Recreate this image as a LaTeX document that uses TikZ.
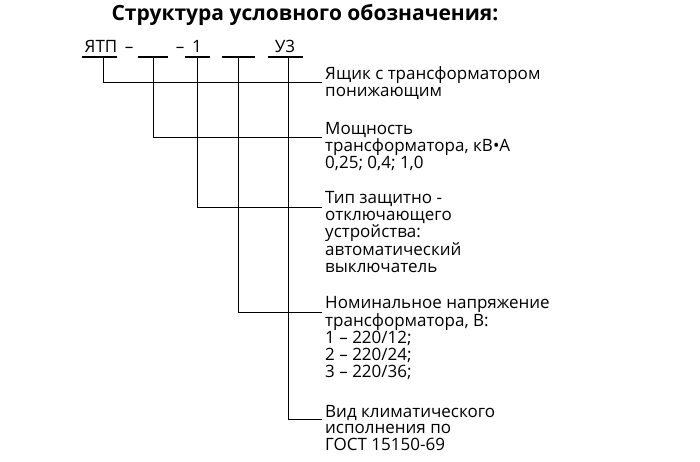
\documentclass[tikz,border=0pt]{standalone}
\usepackage{fontspec}
\setmainfont{Open Sans}
\tikzset{
  desc/.style={anchor=base west, align=left, inner sep=0pt, font=\fontsize{17}{16.8}\selectfont},
  code/.style={anchor=base, inner sep=0pt, font=\fontsize{17}{16.8}\selectfont},
  uline/.style={line width=1.6pt},
  lead/.style={line width=0.9pt}
}
\begin{document}
\begin{tikzpicture}[x=1pt,y=-1pt]
\useasboundingbox (0,0) rectangle (700,462);
\node[inner sep=0pt, font=\bfseries\fontsize{21}{24}\selectfont] (T) at (305,15) {Структура условного обозначения:};
% code line
\node[code] (C1) at (101,53) {ЯТП};
\node[code] (M1) at (129,53) {--};
\node[code] (M2) at (180,53) {--};
\node[code] (C3) at (197,53) {1};
\node[code] (C5) at (285,53) {У3};
\coordinate (S1) at (103,57);
\coordinate (S2) at (153,57);
\coordinate (S3) at (197,57);
\coordinate (S4) at (238,57);
\coordinate (S5) at (288,57);
\draw[uline] (82,57) -- (117,57);
\draw[uline] (138,57) -- (168,57);
\draw[uline] (185,57) -- (210,57);
\draw[uline] (222,57) -- (255,57);
\draw[uline] (268,57) -- (303,57);
% descriptions (base = last line)
\node[desc] (D1) at (325,96.8) {Ящик с трансформатором\\понижающим};
\node[desc] (D2) at (325,168.6) {Мощность\\трансформатора, кВ•А\\0,25; 0,4; 1,0};
\node[desc] (D3) at (325,272.2) {Тип защитно -\\отключающего\\устройства:\\автоматический\\выключатель};
\node[desc] (D4) at (325,377.2) {Номинальное напряжение\\трансформатора, В:\\1 -- 220/12;\\2 -- 220/24;\\3 -- 220/36;};
\node[desc] (D5) at (325,450.6) {Вид климатического\\исполнения по\\ГОСТ 15150-69};
\coordinate (E1) at (322,82);
\coordinate (E2) at (322,137);
\coordinate (E3) at (322,207);
\coordinate (E4) at (322,312);
\coordinate (E5) at (322,419);
\draw[lead] (S1) |- (E1);
\draw[lead] (S2) |- (E2);
\draw[lead] (S3) |- (E3);
\draw[lead] (S4) |- (E4);
\draw[lead] (S5) |- (E5);
\end{tikzpicture}
\end{document}
